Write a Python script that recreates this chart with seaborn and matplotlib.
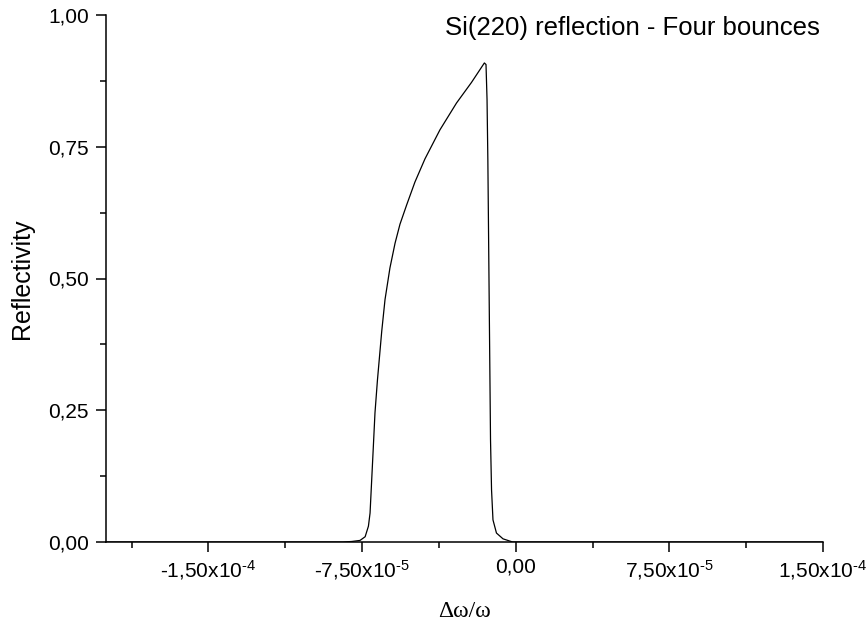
import numpy as np
import pandas as pd
import matplotlib
matplotlib.use("Agg")
import matplotlib.pyplot as plt
import seaborn as sns
from matplotlib.ticker import FixedLocator, FixedFormatter, AutoMinorLocator

# Data (Δω/ω, reflectivity)
delta = [-200e-6, -84.3e-6, -80.0e-6, -76.0e-6, -73.5e-6, -71.9e-6, -71.1e-6, -70.3e-6,
         -69.5e-6, -68.7e-6, -67.5e-6, -65.4e-6, -63.8e-6, -61.4e-6, -58.9e-6,
         -56.5e-6, -53.2e-6, -49.2e-6, -44.3e-6, -37.0e-6, -28.9e-6, -21.6e-6,
         -15.3e-6, -14.5e-6, -14.0e-6, -13.6e-6, -12.3e-6, -11.8e-6, -11.1e-6,
         -9.4e-6, -6.2e-6, -1.5e-6, 150e-6]
refl = [0.0, 0.0, 0.001, 0.003, 0.01, 0.03, 0.055, 0.118,
        0.181, 0.245, 0.307, 0.40, 0.46, 0.52, 0.567,
        0.603, 0.64, 0.683, 0.727, 0.782, 0.833, 0.872,
        0.909, 0.906, 0.84, 0.725, 0.194, 0.099, 0.042,
        0.017, 0.006, 0.0, 0.0]

x_ticks = [-1.5e-4, -7.5e-5, 0.0, 7.5e-5, 1.5e-4]
x_labels = [r"-1,50x10$^{\text{-4}}$", r"-7,50x10$^{\text{-5}}$", "0,00",
            r"7,50x10$^{\text{-5}}$", r"1,50x10$^{\text{-4}}$"]
y_ticks = [0.0, 0.25, 0.5, 0.75, 1.0]
y_labels = ["0,00", "0,25", "0,50", "0,75", "1,00"]

title_text = "Si(220) reflection - Four bounces"

sns.set_style("ticks")
plt.rcParams["font.family"] = ["Liberation Sans", "DejaVu Sans"]
plt.rcParams["mathtext.fontset"] = "custom"
plt.rcParams["mathtext.rm"] = "Liberation Sans"
plt.rcParams["mathtext.it"] = "Liberation Sans:italic"
plt.rcParams["mathtext.bf"] = "Liberation Sans:bold"
plt.rcParams["axes.unicode_minus"] = False
plt.rcParams["text.color"] = "black"
plt.rcParams["axes.labelcolor"] = "black"

df = pd.DataFrame({"delta": delta, "refl": refl})

fig = plt.figure(figsize=(8.67, 6.29), dpi=100)
ax = fig.add_axes([106/867, 1 - 542/629, (823-106)/867, (542-15)/629])

sns.lineplot(data=df, x="delta", y="refl", ax=ax, color="black", linewidth=0.9, sort=False)

ax.set_xlim(-2.0e-4, 1.5e-4)
ax.set_ylim(0, 1.0)

ax.xaxis.set_major_locator(FixedLocator(x_ticks))
ax.xaxis.set_major_formatter(FixedFormatter(x_labels))
ax.yaxis.set_major_locator(FixedLocator(y_ticks))
ax.yaxis.set_major_formatter(FixedFormatter(y_labels))
ax.xaxis.set_minor_locator(AutoMinorLocator(2))
ax.yaxis.set_minor_locator(AutoMinorLocator(2))

ax.tick_params(axis="both", which="major", direction="out", length=7.5, width=1.1,
               labelsize=15, color="black", labelcolor="black")
ax.tick_params(axis="x", which="major", pad=4)
ax.tick_params(axis="y", which="major", pad=5)
ax.tick_params(axis="both", which="minor", direction="out", length=4, width=1.1, color="black")

for s in ["top", "right"]:
    ax.spines[s].set_visible(False)
for s in ["left", "bottom"]:
    ax.spines[s].set_linewidth(1.1)
    ax.spines[s].set_color("black")

ax.set_xlabel("Δω/ω", fontsize=17, family=["Liberation Serif", "DejaVu Serif"],
              labelpad=14, color="black")
ax.set_ylabel("Reflectivity", fontsize=18, labelpad=10, color="black")

ax.text(0.995, 0.975, title_text, transform=ax.transAxes, ha="right", va="center",
        fontsize=18.5, color="black")

fig.savefig("out.png", dpi=100)
